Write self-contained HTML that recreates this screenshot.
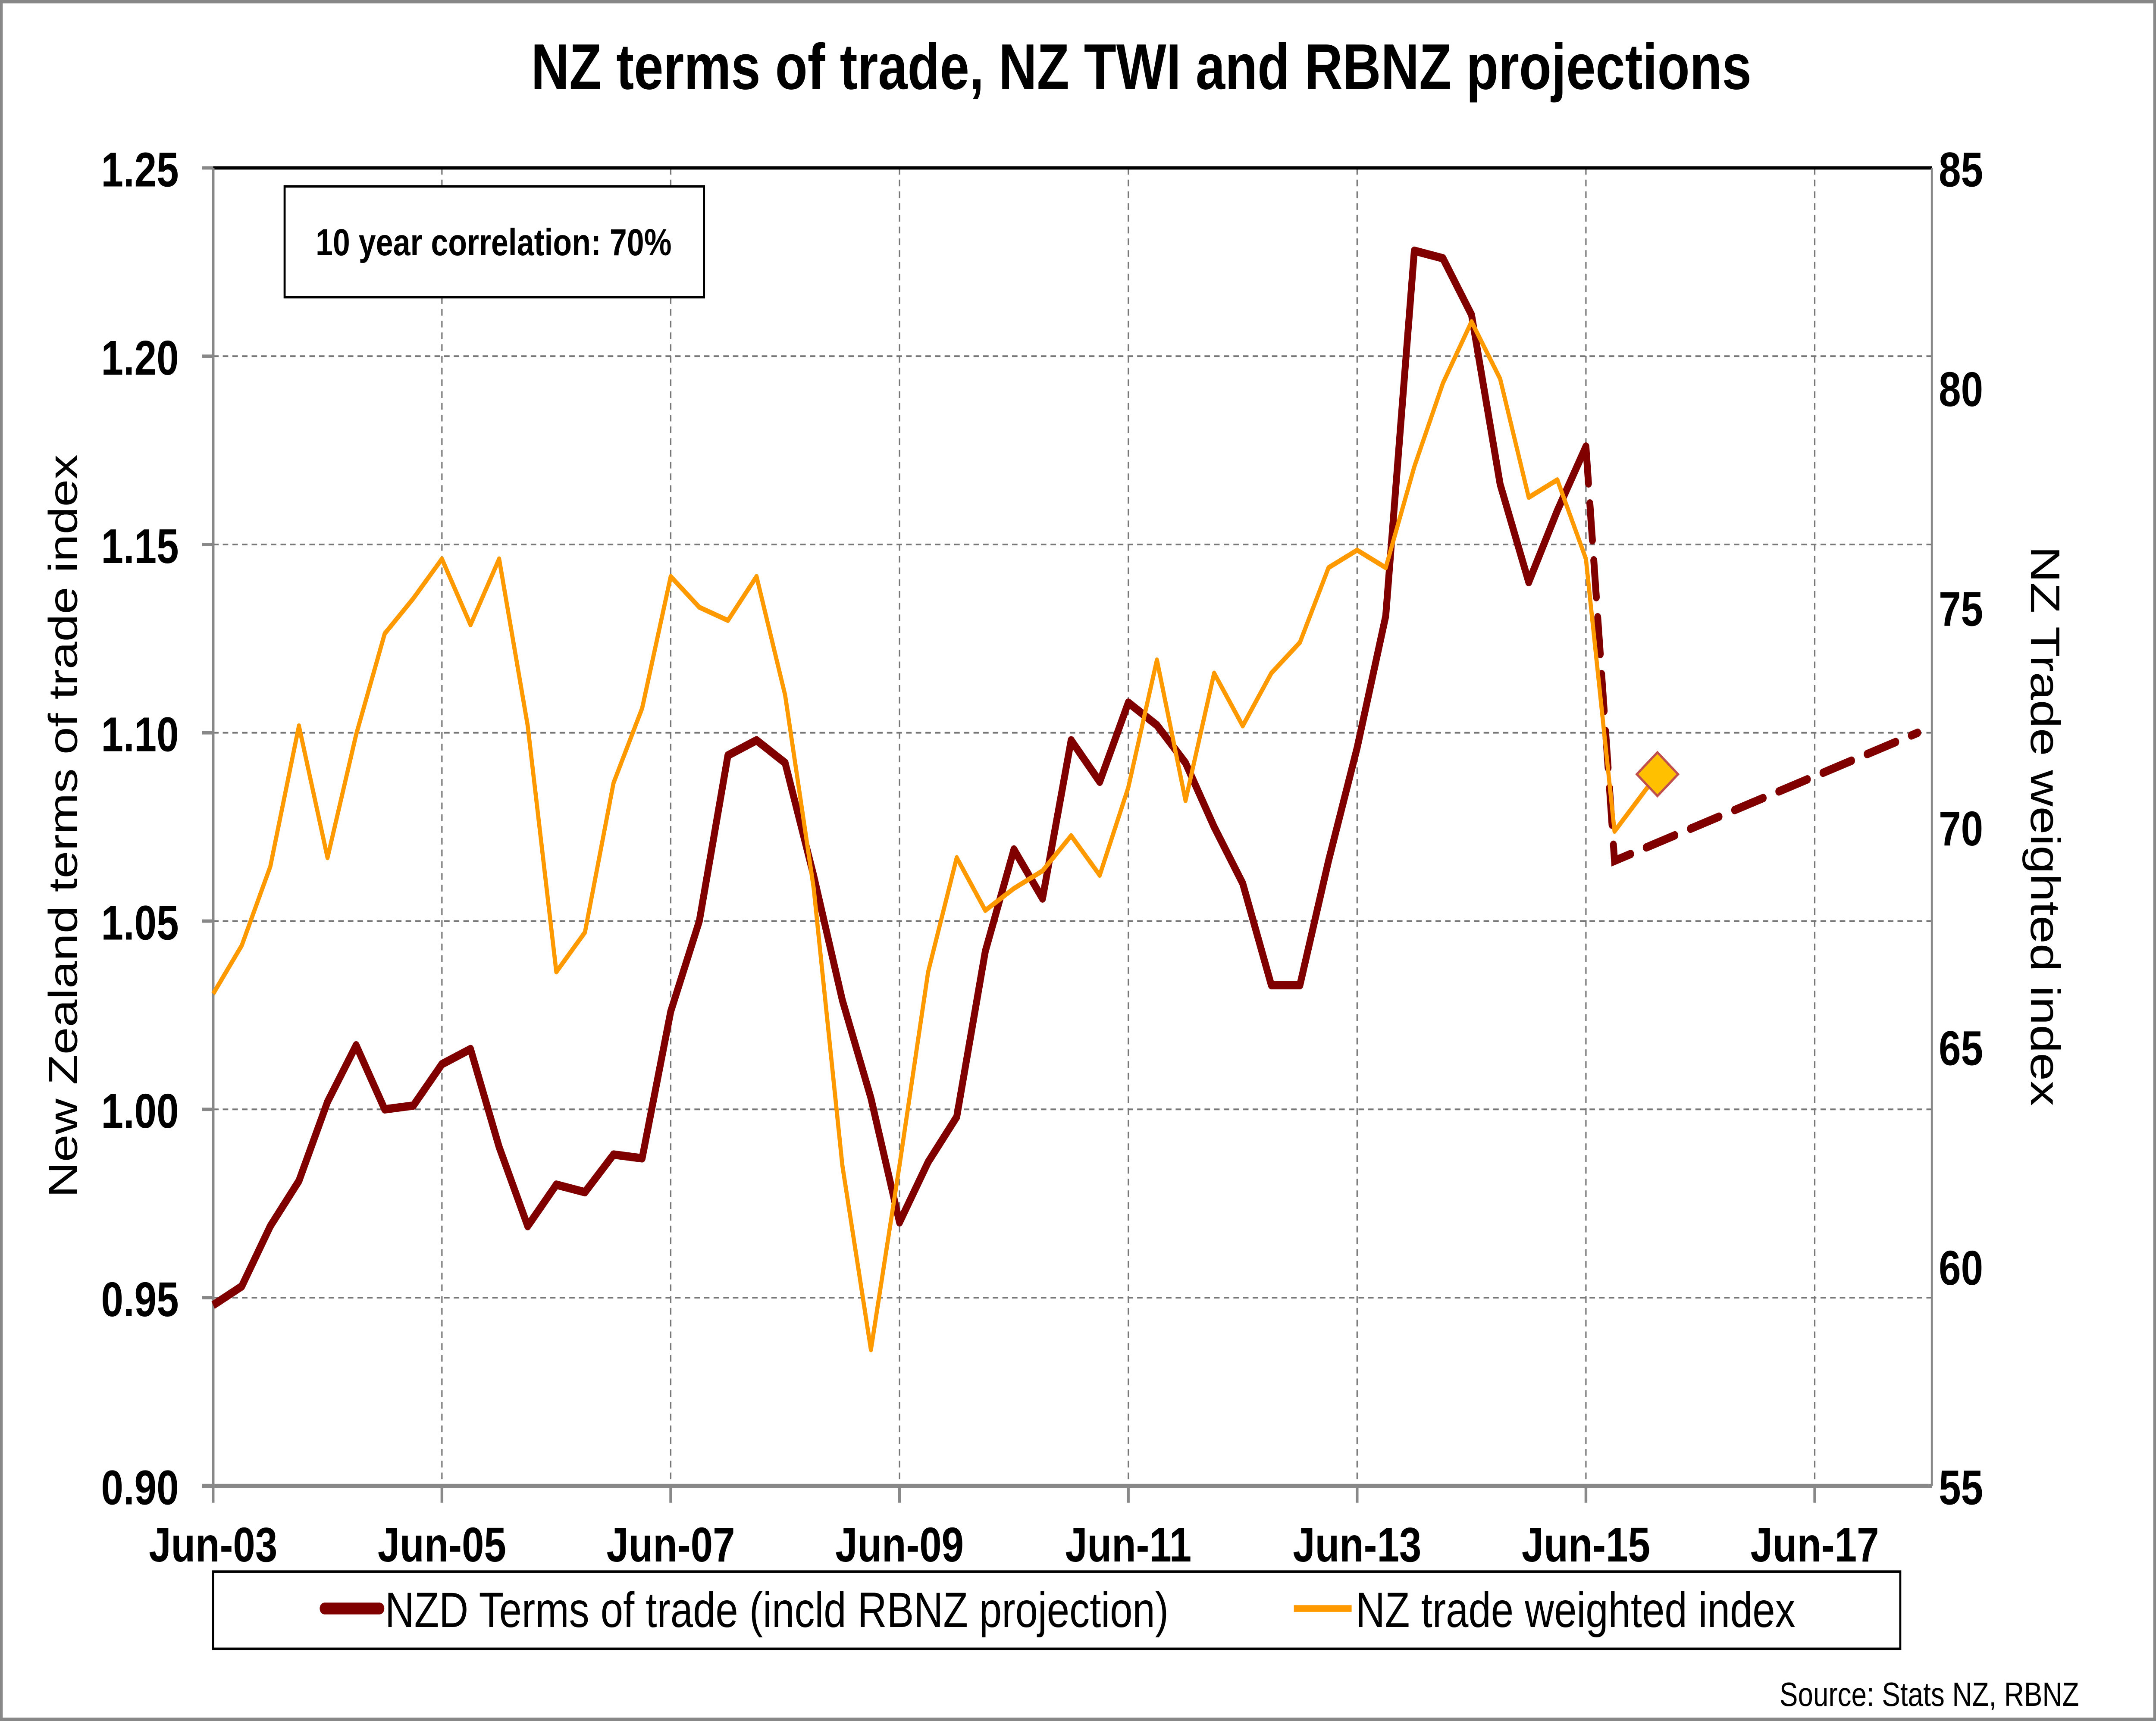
<!DOCTYPE html>
<html><head><meta charset="utf-8"><style>
html,body{margin:0;padding:0;background:#fff;overflow:hidden;width:100%;height:100%;}
svg{display:block;position:absolute;left:0;top:0;width:100vw;height:100vh;}
text{font-family:"Liberation Sans",Arial,sans-serif;}
</style></head><body>
<svg id="chart" viewBox="0 0 1568 1025" preserveAspectRatio="none" xmlns="http://www.w3.org/2000/svg">
<rect x="1" y="1" width="1566" height="1023" fill="#fff" stroke="#888" stroke-width="2"/>
<text x="830" y="53" text-anchor="middle" font-size="38.5" font-weight="bold">NZ terms of trade, NZ TWI and RBNZ projections</text>
<g id="grid"></g>
<g id="axes"></g>
<g id="series"></g>
<rect x="207" y="111" width="305" height="66" fill="#fff" stroke="#000" stroke-width="1.5"/>
<text x="359" y="152" text-anchor="middle" font-size="22.5" font-weight="bold">10 year correlation: 70%</text>
<text transform="translate(56,492) rotate(-90)" text-anchor="middle" font-size="29.5">New Zealand terms of trade index</text>
<text transform="translate(1477,492) rotate(90)" text-anchor="middle" font-size="30">NZ Trade weighted index</text>
<g>
<rect x="155" y="936" width="1227" height="46" fill="#fff" stroke="#000" stroke-width="1.5"/>
<line x1="236" y1="958" x2="276" y2="958" stroke="#800000" stroke-width="7" stroke-linecap="round"/>
<text x="280" y="969" font-size="29.5">NZD Terms of trade (incld RBNZ projection)</text>
<line x1="941" y1="958" x2="983" y2="958" stroke="#FF9900" stroke-width="4"/>
<text x="986" y="969" font-size="29.5">NZ trade weighted index</text>
</g>
<text x="1512" y="1016" text-anchor="end" font-size="20">Source: Stats NZ, RBNZ</text>
</svg>
<script>
const xTickLabels = ["Jun-03","Jun-05","Jun-07","Jun-09","Jun-11","Jun-13","Jun-15","Jun-17"];
const leftTicks = [0.90,0.95,1.00,1.05,1.10,1.15,1.20,1.25];
const rightTicks = [55,60,65,70,75,80,85];
const totValues = [0.948,0.953,0.969,0.981,1.002,1.017,1.000,1.001,1.012,1.016,0.990,0.969,0.980,0.978,0.988,0.987,1.026,1.050,1.094,1.098,1.092,1.062,1.029,1.003,0.970,0.986,0.998,1.042,1.069,1.056,1.098,1.087,1.108,1.102,1.092,1.075,1.060,1.033,1.033,1.066,1.096,1.131,1.228,1.226,1.211,1.166,1.140,1.159,1.176];
const projQuarters = [48,49,59.6];
const projValues = [1.176,1.066,1.100];
const twiValues = [66.2,67.3,69.1,72.3,69.3,72.1,74.4,75.2,76.1,74.6,76.1,72.3,66.7,67.6,71.0,72.7,75.7,75.0,74.7,75.7,73.0,68.6,62.3,58.1,62.3,66.7,69.3,68.1,68.6,69.0,69.8,68.9,70.9,73.8,70.6,73.5,72.3,73.5,74.2,75.9,76.3,75.9,78.2,80.1,81.5,80.2,77.5,77.9,76.1,69.9];
const twiForecastQuarter = [50.5];
const twiForecastValue = [71.2];

(function(){
const NS="http://www.w3.org/2000/svg";
const L=155,R=1405,T=100,B=885,QW=20.8;
const xS=q=>L+q*QW;
const yL=v=>B-(v-0.90)/(0.35)*(B-T);
const yR=v=>B-(v-55)/30*(B-T);
function mk(tag,attrs,parent){const e=document.createElementNS(NS,tag);for(const k in attrs)e.setAttribute(k,attrs[k]);parent.appendChild(e);return e;}
const grid=document.getElementById('grid'),axes=document.getElementById('axes'),series=document.getElementById('series');
leftTicks.forEach((v,i)=>{
  const y=yL(v);
  if(i>0&&i<leftTicks.length-1){const g=mk('line',{x1:L,x2:R,y1:y,y2:y,stroke:'#777','stroke-width':1,'stroke-dasharray':'4,3'},grid);
  
  }
  const tk=mk('line',{x1:L-8,x2:L,y1:y,y2:y,stroke:'#888','stroke-width':2},axes);
  
  
  const t=mk('text',{x:130,y:y+11,'text-anchor':'end','font-size':29,'font-weight':'bold'},axes);
  t.textContent=v.toFixed(2);
  
  
});
rightTicks.forEach(v=>{
  const y=yR(v);
  const t=mk('text',{x:1410,y:y+11,'font-size':29,'font-weight':'bold'},axes);
  t.textContent=v;
  
  
});
xTickLabels.forEach((lab,i)=>{
  const x=xS(i*8);
  if(i>0){const g=mk('line',{x1:x,x2:x,y1:T,y2:B,stroke:'#777','stroke-width':1,'stroke-dasharray':'4,3'},grid);
  
  }
  const tk=mk('line',{x1:x,x2:x,y1:B,y2:B+10,stroke:'#888','stroke-width':2},axes);
  
  
  const t=mk('text',{x:x,y:B+45,'text-anchor':'middle','font-size':29,'font-weight':'bold'},axes);
  t.textContent=lab;
  
  
});
const topLine=mk('line',{x1:L,x2:R,y1:T,y2:T,stroke:'#000','stroke-width':2},axes);


const la=mk('line',{x1:L,x2:L,y1:T,y2:B,stroke:'#888','stroke-width':2},axes);


const ba=mk('line',{x1:L-8,x2:R,y1:B,y2:B,stroke:'#888','stroke-width':2.5},axes);


const ra=mk('line',{x1:R,x2:R,y1:T,y2:B,stroke:'#888','stroke-width':1.5},axes);



const totPts=totValues.map((v,i)=>xS(i)+','+yL(v)).join(' ');
const tot=mk('polyline',{points:totPts,fill:'none',stroke:'#800000','stroke-width':5,'stroke-linejoin':'round'},series);


const projPts=projQuarters.map((q,i)=>xS(q)+','+yL(projValues[i])).join(' ');
const proj=mk('polyline',{points:projPts,fill:'none',stroke:'#800000','stroke-width':5,'stroke-dasharray':'22,12','stroke-linecap':'round'},series);


const twiPts=twiValues.map((v,i)=>xS(i)+','+yR(v));
twiPts.push(xS(twiForecastQuarter[0])+','+yR(twiForecastValue[0]));
const twi=mk('polyline',{points:twiPts.join(' '),fill:'none',stroke:'#FF9900','stroke-width':3,'stroke-linejoin':'round'},series);


const dx=xS(twiForecastQuarter[0]),dy=yR(twiForecastValue[0]);
const dia=mk('polygon',{points:(dx-15)+','+dy+' '+dx+','+(dy-13)+' '+(dx+15)+','+dy+' '+dx+','+(dy+13),fill:'#FFC000',stroke:'#C0504D','stroke-width':1.5},series);


})();
</script>
</body></html>
